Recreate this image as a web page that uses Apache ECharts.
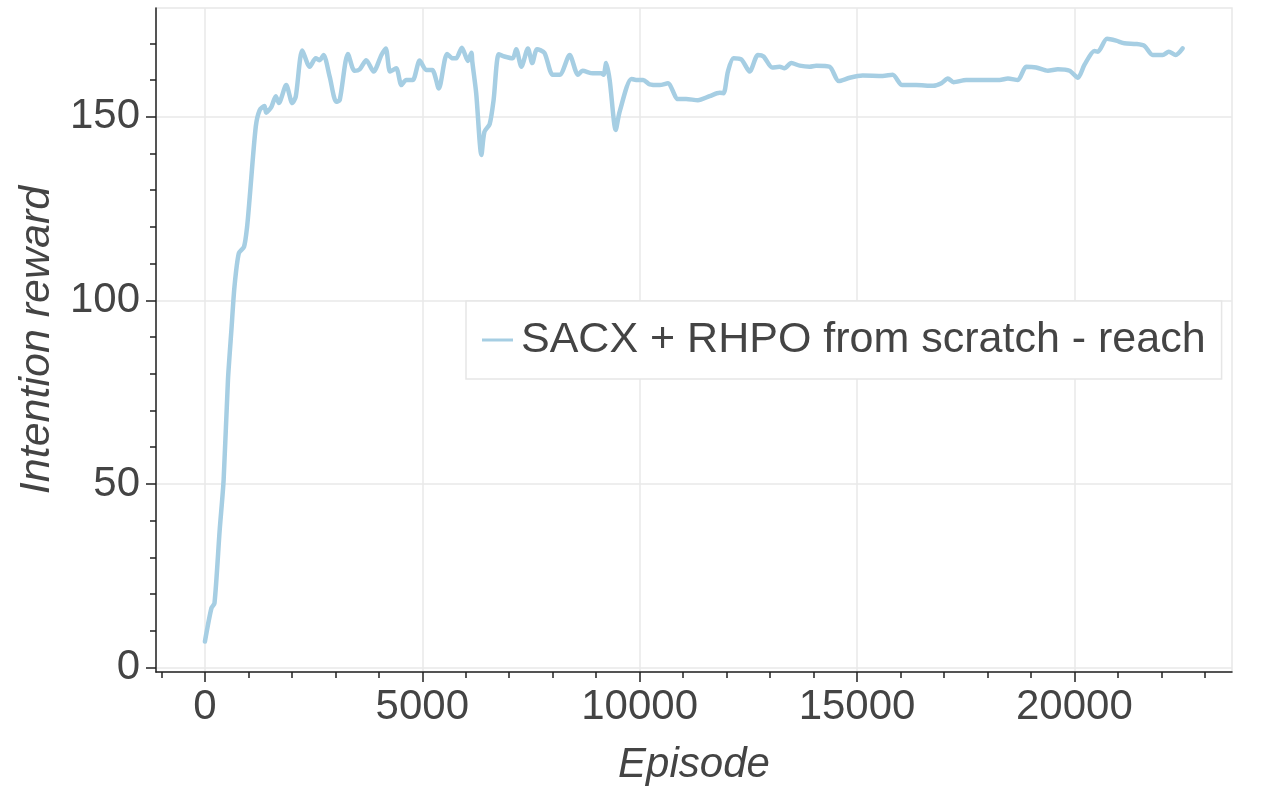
<!DOCTYPE html>
<html>
<head>
<meta charset="utf-8">
<title>Intention reward</title>
<script src="https://cdn.jsdelivr.net/npm/echarts@6/dist/echarts.min.js"></script>
<style>
  html, body { margin: 0; padding: 0; background: #fff; }
  #chart { width: 1280px; height: 800px; }
</style>
</head>
<body>
<div id="chart"></div>
<script>
// values
const episodes = [
  0, 150, 220, 340, 430, 530, 610, 680, 780, 900, 970, 1030, 1170, 1260, 1370, 1410,
  1530, 1630, 1700, 1870, 2010, 2090, 2240, 2410, 2550, 2640, 2730, 2870, 3020, 3100,
  3290, 3440, 3560, 3710, 3880, 4060, 4160, 4260, 4400, 4520, 4630, 4780, 4940, 5090,
  5230, 5380, 5570, 5700, 5780, 5910, 6050, 6130, 6150, 6240, 6360, 6430, 6550, 6640,
  6760, 6890, 7080, 7160, 7280, 7430, 7530, 7640, 7810, 8000, 8160, 8390, 8580, 8690,
  8920, 9120, 9170, 9230, 9310, 9450, 9540, 9810, 9920, 10080, 10230, 10460, 10650,
  10880, 11070, 11340, 11610, 11840, 11930, 12030, 12160, 12340, 12530, 12720, 12850,
  13050, 13220, 13330, 13490, 13680, 13910, 14060, 14370, 14580, 14830, 15130, 15590,
  15820, 16040, 16360, 16750, 16940, 17090, 17220, 17510, 17900, 18280, 18470, 18700,
  18890, 19120, 19390, 19620, 19890, 20080, 20230, 20460, 20540, 20750, 20960, 21150,
  21420, 21610, 21800, 22030, 22170, 22330, 22490
];
const rewards = [
  7.1, 16.2, 17.5, 37.5, 51, 78.3, 92, 103.7, 112.8, 114.6, 120, 128, 147.3, 151.8, 152.9, 151.1,
  152.7, 155.6, 153.7, 158.6, 153.7, 155.5, 168, 163.6, 165.9, 165.4, 166.8, 160.9, 154.1, 154.5,
  167.1, 162.5, 162.9, 165.4, 162.3, 166.8, 168.6, 162.3, 163.2, 158.6, 160, 160, 165.3, 162.7,
  162.7, 157.7, 167.1, 165.9, 165.9, 168.8, 165.2, 167.4, 165, 156.4, 139.6, 145.9, 148, 154.5,
  167, 166.4, 165.9, 168.4, 163.6, 168.6, 164.6, 168.4, 167.4, 161.4, 161.4, 166.8, 161.4, 162.5,
  161.8, 161.8, 161.4, 164.6, 160, 146.4, 151.4, 160.3, 160, 160, 158.8, 158.6, 159.1,
  154.8, 154.8, 154.5, 155.6, 156.5, 156.4, 162.3, 165.9, 165.6, 162.3, 166.8, 166.4,
  163.4, 163.6, 163.2, 164.6, 163.9, 163.6, 163.9, 163.6, 159.7, 160.6, 161.2, 161.1,
  161.4, 158.6, 158.6, 158.4, 159.1, 160.4, 159.4, 160, 160, 160, 160.4, 160,
  163.6, 163.4, 162.5, 162.9, 162.5, 160.6, 164.1, 167.9, 167.7, 171.2, 170.7, 170,
  169.8, 169.3, 166.8, 166.8, 167.7, 166.8, 168.6
];
const seriesName = "SACX + RHPO from scratch - reach";

const xTicks = [0, 5000, 10000, 15000, 20000];
const xMinorTicks = [-1000, 1000, 2000, 3000, 4000, 6000, 7000, 8000, 9000, 11000, 12000,
  13000, 14000, 16000, 17000, 18000, 19000, 21000, 22000, 23000];
const yTicks = [0, 50, 100, 150];
const yMinorTicks = [10, 20, 30, 40, 60, 70, 80, 90, 110, 120, 130, 140, 160, 170];

const textColor = "#444";
const axisColor = "#222";
const gridColor = "#e8e8e8";
const fontFamily = "'Liberation Sans', Arial, Helvetica, sans-serif";

const chart = echarts.init(document.getElementById("chart"));

const lineData = episodes.map((x, i) => [x, rewards[i]]);

const option = {
  animation: false,
  backgroundColor: "#fff",
  textStyle: { fontFamily: fontFamily },
  grid: {
    left: 156,
    right: 48,
    top: 8,
    bottom: 128,
    show: true,
    borderColor: gridColor,
    borderWidth: 1.5,
  },
  legend: {
    left: 466,
    top: 301,
    orient: "horizontal",
    padding: [17, 16, 17, 16],
    borderColor: "#e6e6e6",
    borderWidth: 1.5,
    backgroundColor: "#fff",
    icon: "rect",
    itemWidth: 31,
    itemHeight: 3,
    data: [seriesName],
    textStyle: {
      fontSize: 43,
      color: textColor,
      fontFamily: fontFamily,
      lineHeight: 44,
      padding: [0, 0, 0, 3],
    },
  },
  xAxis: [
    {
      type: "value",
      min: -1125,
      max: 23625,
      position: "bottom",
      name: "Episode",
      nameLocation: "middle",
      nameGap: 72,
      nameTextStyle: {
        fontSize: 42,
        fontStyle: "italic",
        color: textColor,
        fontFamily: fontFamily,
      },
      axisLine: { onZero: false, lineStyle: { color: axisColor, width: 1.5 } },
      axisTick: {
        customValues: xTicks,
        length: 10,
        lineStyle: { color: axisColor, width: 1.5 },
      },
      axisLabel: {
        customValues: xTicks,
        formatter: (v) => String(v),
        fontSize: 42,
        color: textColor,
        margin: 14,
        fontFamily: fontFamily,
      },
      splitLine: { show: true, lineStyle: { color: gridColor, width: 1.5 } },
    },
    {
      type: "value",
      min: -1125,
      max: 23625,
      position: "bottom",
      axisLine: { show: false, onZero: false },
      axisTick: {
        customValues: xMinorTicks,
        length: 6,
        lineStyle: { color: axisColor, width: 1.5 },
      },
      axisLabel: { show: false },
      splitLine: { show: false },
    },
  ],
  yAxis: [
    {
      type: "value",
      min: -1.2,
      max: 179.6,
      position: "left",
      name: "Intention reward",
      nameLocation: "middle",
      nameGap: 94,
      nameTextStyle: {
        fontSize: 43,
        fontStyle: "italic",
        color: textColor,
        fontFamily: fontFamily,
      },
      axisLine: { show: true, onZero: false, lineStyle: { color: axisColor, width: 1.5 } },
      axisTick: {
        show: true,
        customValues: yTicks,
        length: 10,
        lineStyle: { color: axisColor, width: 1.5 },
      },
      axisLabel: {
        customValues: yTicks,
        formatter: (v) => String(v),
        fontSize: 42,
        color: textColor,
        margin: 16,
        fontFamily: fontFamily,
      },
      splitLine: { show: true, lineStyle: { color: gridColor, width: 1.5 } },
    },
    {
      type: "value",
      min: -1.2,
      max: 179.6,
      position: "left",
      axisLine: { show: false, onZero: false },
      axisTick: {
        show: true,
        customValues: yMinorTicks,
        length: 6,
        lineStyle: { color: axisColor, width: 1.5 },
      },
      axisLabel: { show: false },
      splitLine: { show: false },
    },
  ],
  series: [
    {
      name: seriesName,
      type: "line",
      xAxisIndex: 0,
      yAxisIndex: 0,
      data: lineData,
      smooth: 0.25,
      showSymbol: false,
      symbol: "none",
      color: "#a6cee3",
      lineStyle: { width: 4.5, color: "#a6cee3", cap: "round", join: "round" },
    },
  ],
};

chart.setOption(option);
</script>
</body>
</html>
